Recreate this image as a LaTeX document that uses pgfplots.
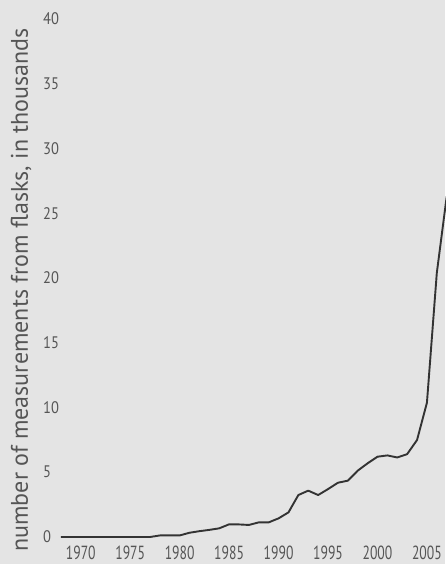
\documentclass[border=0pt]{standalone}
\usepackage{pgfplots}
\pgfplotsset{compat=1.18}
\usepackage{pgfplotstable}
\usepackage{fontspec}
\setmainfont{PT Sans}
\newfontfamily\xtickfont[FakeStretch=0.72]{PT Sans}
\newfontfamily\ytickfont[FakeStretch=0.87]{PT Sans}
\definecolor{bg}{HTML}{E4E4E4}
\definecolor{txt}{HTML}{555555}
\definecolor{ln}{HTML}{333333}

% flask measurements per year, in thousands
\pgfplotstableread{
year value
1968 0
1969 0
1970 0
1971 0
1972 0
1973 0
1974 0
1975 0
1976 0
1977 0
1978 0.12
1979 0.12
1980 0.12
1981 0.33
1982 0.45
1983 0.55
1984 0.67
1985 0.98
1986 0.97
1987 0.93
1988 1.13
1989 1.13
1990 1.44
1991 1.90
1992 3.24
1993 3.58
1994 3.24
1995 3.70
1996 4.19
1997 4.35
1998 5.12
1999 5.69
2000 6.20
2001 6.30
2002 6.14
2003 6.40
2004 7.49
2005 10.37
2006 20.40
2007 26.30
}\flasks

\begin{document}
\begin{tikzpicture}
  \fill[bg] (-61pt,-27pt) rectangle (384pt,537pt);
  \begin{axis}[
    scale only axis, width=395.6pt, height=518pt,
    xmin=1968, xmax=2008, ymin=0, ymax=40,
    axis line style={draw=none}, major tick length=0pt, tick style={draw=none},
    xtick={1970,1975,...,2005}, ytick={0,5,...,40},
    /pgf/number format/1000 sep={},
    /pgf/number format/assume math mode=true,
    xticklabel style={font=\xtickfont\fontsize{19}{19}\selectfont, text=txt,
      anchor=north, inner sep=0pt, yshift=-8.5pt},
    yticklabel style={font=\ytickfont\fontsize{16.7}{16.7}\selectfont, text=txt,
      anchor=west, inner sep=0pt, xshift=-18pt},
    ylabel={number of measurements from flasks, in thousands},
    ylabel style={at={([xshift=-33pt]axis description cs:0,0.477)}, anchor=base,
      font=\fontsize{24}{24}\selectfont, text=txt},
    clip=false,
  ]
    \addplot[ln, line width=1.9pt, line join=round] table[x=year, y=value] {\flasks};
  \end{axis}
  \pgfresetboundingbox
  \useasboundingbox (-61pt,-27pt) rectangle (384pt,537pt);
\end{tikzpicture}
\end{document}
